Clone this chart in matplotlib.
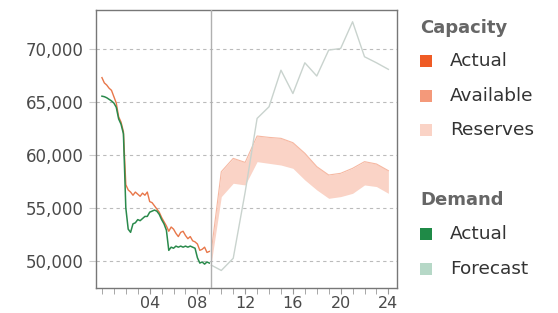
import numpy as np
import matplotlib
matplotlib.use("Agg")
import matplotlib.pyplot as plt
from matplotlib.patches import Rectangle

# actual readings every 12 minutes from 00:00 to 09:00
actual_hours = np.linspace(0, 9.0, 46)
capacity_actual = [67300, 66800, 66600, 66300, 66100, 65500, 64900, 63600, 63100, 62200,
                   57200, 56700, 56500, 56200, 56500, 56300, 56100, 56400, 56200, 56500,
                   55600, 55500, 55200, 54900, 54600, 54100, 53700, 53300, 52800, 53200,
                   53000, 52600, 52300, 52700, 52800, 52400, 52100, 52300, 51900, 51800,
                   51600, 51000, 51100, 51300, 50800, 50900]
demand_actual = [65550, 65500, 65400, 65250, 65100, 64900, 64500, 63400, 62900, 62000,
                 55000, 53000, 52700, 53500, 53600, 53900, 53800, 54000, 54200, 54200,
                 54600, 54700, 54800, 54700, 54400, 53900, 53500, 52900, 51000, 51300,
                 51200, 51400, 51300, 51400, 51300, 51400, 51300, 51400, 51300, 51200,
                 50300, 49800, 49900, 49700, 49900, 49800]

now_hour = 9.17
forecast_hours = [9.17, 10, 11, 12, 13, 14, 15, 16, 17, 18, 19, 20, 21, 22, 23, 24]
demand_forecast = [49600, 49100, 50250, 56500, 63450, 64550, 68000, 65800, 68700, 67450,
                   69900, 70050, 72570, 69270, 68700, 68080]
capacity_available = [51000, 58420, 59680, 59300, 61790, 61660, 61570, 61160, 60160, 58900,
                      58110, 58270, 58740, 59370, 59150, 58520]
capacity_reserves_low = [49900, 56070, 57330, 57170, 59370, 59210, 59050, 58740, 57640, 56700,
                         55910, 56070, 56380, 57170, 57020, 56380]

yticks = [50000, 55000, 60000, 65000, 70000]
xticks = [4, 8, 12, 16, 20, 24]

c_cap_actual = "#ef5b25"
c_cap_avail = "#f4997a"
c_cap_res = "#fad3c6"
c_dem_actual = "#1f8a47"
c_dem_fcst = "#b6d8c7"

fig = plt.figure(figsize=(5.58, 3.13), dpi=100)
ax = fig.add_axes([0.172, 0.080, 0.539, 0.888])

ax.fill_between(forecast_hours, capacity_reserves_low, capacity_available,
                color=c_cap_res, lw=0, zorder=2)
ax.plot(forecast_hours, capacity_available, color="#f6b8a2", lw=0.8, zorder=3)
ax.plot(forecast_hours, demand_forecast, color="#c9d3ce", lw=1.0, zorder=3)
ax.plot(actual_hours, capacity_actual, color="#e8774a", lw=1.0, zorder=4)
ax.plot(actual_hours, demand_actual, color="#2a8a4c", lw=1.1, zorder=5)
ax.axvline(now_hour, color="#b0b0b0", lw=1.0, zorder=6)

ax.set_xlim(-0.5, 24.7)
ax.set_ylim(47450, 73680)
ax.set_yticks(yticks)
ax.set_yticklabels([f"{v:,}" for v in yticks])
ax.set_xticks(xticks)
ax.set_xticklabels([f"{h:02d}" for h in xticks])
ax.set_xticks(range(0, 25), minor=True)
ax.grid(axis="y", color="#bbbbbb", lw=0.8, linestyle=(0, (3, 3)))
ax.set_axisbelow(True)

ax.tick_params(axis="y", length=5, color="#cccccc", pad=4, labelsize=12, labelcolor="#4a4a4a")
ax.tick_params(axis="x", which="both", length=4, color="#999999", pad=2,
               labelsize=11.5, labelcolor="#4a4a4a")
for s in ax.spines.values():
    s.set_color("#777777")
    s.set_linewidth(1.0)

W, H = 558, 313

def fx(px):
    return px / W

def fy(py):
    return 1 - py / H

legend_groups = [
    ("Capacity", 28, [("Actual", c_cap_actual, 61), ("Available", c_cap_avail, 96),
                      ("Reserves", c_cap_res, 130)]),
    ("Demand", 200, [("Actual", c_dem_actual, 234), ("Forecast", c_dem_fcst, 269)]),
]
for title, ty, items in legend_groups:
    fig.text(fx(420), fy(ty), title, fontsize=13, fontweight="bold", color="#666666",
             ha="left", va="center")
    for label, col, iy in items:
        fig.patches.append(Rectangle((fx(420), fy(iy + 6)), 12 / W, 12 / H,
                                     transform=fig.transFigure, color=col, lw=0))
        fig.text(fx(450), fy(iy), label, fontsize=13.3, color="#333333",
                 ha="left", va="center")

fig.savefig("out.png", dpi=100)
